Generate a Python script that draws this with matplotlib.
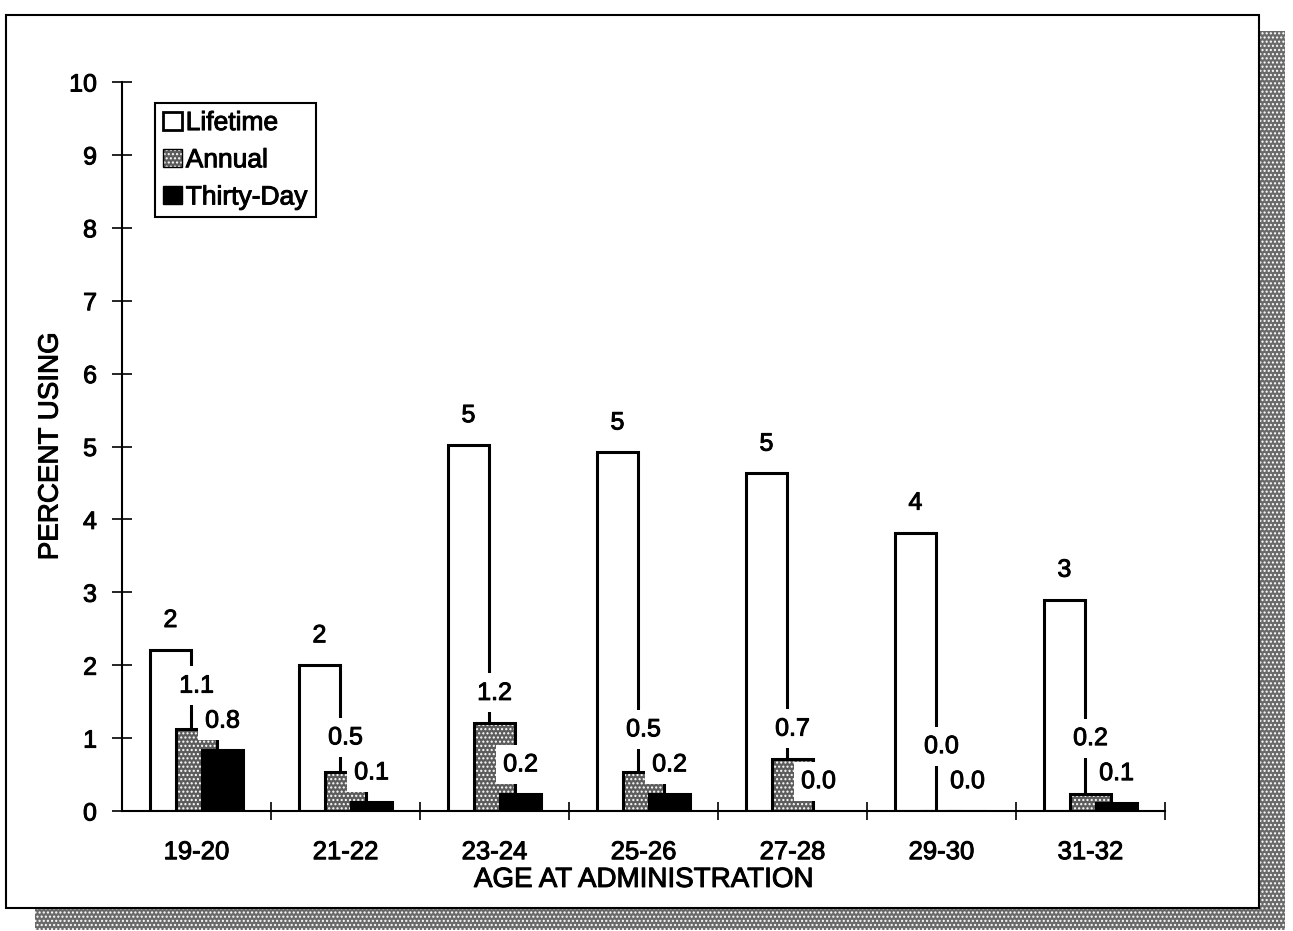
import matplotlib
matplotlib.use("Agg")
import matplotlib.pyplot as plt
import matplotlib.patheffects as pe
import numpy as np
from matplotlib.patches import Patch, Rectangle
from matplotlib.legend_handler import HandlerTuple

plt.rcParams['font.family'] = ['Liberation Sans', 'DejaVu Sans']
plt.rcParams['font.size'] = 18
plt.rcParams['hatch.linewidth'] = 1.0

# values (percent using)
ages = ["19-20", "21-22", "23-24", "25-26", "27-28", "29-30", "31-32"]
lifetime = [2.21, 2.00, 5.02, 4.92, 4.63, 3.82, 2.90]
annual = [1.12, 0.53, 1.21, 0.53, 0.72, 0.0, 0.23]
thirty_day = [0.83, 0.12, 0.23, 0.23, 0.0, 0.0, 0.11]

W, H = 1293, 931
fig = plt.figure(figsize=(W / 100, H / 100), dpi=100)

# page frame with stippled drop shadow
shadow = Rectangle((35 / W, 1 / H), 1250 / W, 899 / H, transform=fig.transFigure,
                   facecolor='#6a6a6a', edgecolor='white', hatch='....', lw=0, zorder=-3)
frame = Rectangle((6 / W, 23 / H), 1253 / W, 893 / H, transform=fig.transFigure,
                  facecolor='white', edgecolor='black', lw=1.5, zorder=-2)
fig.add_artist(shadow)
fig.add_artist(frame)

ax = fig.add_axes([122 / W, 1 - 811 / H, 1043 / W, 729 / H])
ax.set_facecolor('none')

x = np.arange(len(ages))
w = 0.28
d = 0.175
gray = '#5c5c5c'
ink = [pe.withStroke(linewidth=0.7, foreground='black')]

ax.bar(x - d, lifetime, w, color='white', edgecolor='black', lw=2.2, zorder=2)
ax.bar(x, annual, w, color=gray, edgecolor='white', hatch='....', lw=0, zorder=3)
ax.bar(x, annual, w, color='none', edgecolor='black', lw=2.2, zorder=3.1)
ax.bar(x + d, thirty_day, w, color='black', edgecolor='black', lw=2.2, zorder=4)

# value labels on white boxes (they cover the bars behind them)
box = dict(boxstyle='square,pad=0.3', facecolor='white', edgecolor='none')
gap = 0.41
for i in x:
    ax.text(i - d, lifetime[i] + gap, f"{lifetime[i]:.0f}", ha='center', va='center',
            bbox=box, zorder=6, path_effects=ink)
    a_y = max(annual[i] + gap, thirty_day[i] + gap + 0.48)
    ax.text(i, a_y, f"{annual[i]:.1f}", ha='center', va='center', bbox=box, zorder=6,
            path_effects=ink)
    ax.text(i + d, thirty_day[i] + gap, f"{thirty_day[i]:.1f}", ha='center', va='center',
            bbox=box, zorder=7, path_effects=ink)

ax.set_xlim(-0.5, len(ages) - 0.5)
ax.set_ylim(0, 10)
ax.set_yticks(range(11))
ax.set_xticks(x, ages)
ax.set_xticks(np.arange(0.5, len(ages), 1), minor=True)
ax.tick_params(axis='x', which='major', length=0, pad=21, labelsize=18.5)
ax.tick_params(axis='x', which='minor', direction='inout', length=13, width=1.2)
ax.tick_params(axis='y', direction='inout', length=14, width=1.2, pad=11)

for s in ['top', 'right']:
    ax.spines[s].set_visible(False)
for s in ['left', 'bottom']:
    ax.spines[s].set_linewidth(1.5)

ax.set_xlabel("AGE AT ADMINISTRATION", fontsize=20, labelpad=2)
ax.set_ylabel("PERCENT USING", fontsize=20, labelpad=4)

h_life = Patch(facecolor='white', edgecolor='black', lw=2)
h_ann = (Patch(facecolor=gray, edgecolor='white', hatch='....', lw=0),
         Patch(facecolor='none', edgecolor='black', lw=1))
h_thirty = Patch(facecolor='black', edgecolor='black', lw=1)
leg = ax.legend([h_life, h_ann, h_thirty], ["Lifetime", "Annual", "Thirty-Day"],
                handler_map={tuple: HandlerTuple(ndivide=1)},
                loc='upper left', bbox_to_anchor=(0.032, 0.971), borderaxespad=0,
                fancybox=False, framealpha=1, fontsize=19, handlelength=0.7,
                handleheight=0.7, handletextpad=0.15, labelspacing=0.5, borderpad=0.3)
leg.get_frame().set_edgecolor('black')
leg.get_frame().set_linewidth(1.5)

texts = leg.get_texts() + ax.get_xticklabels() + ax.get_yticklabels()
texts += [ax.xaxis.label, ax.yaxis.label]
for t in texts:
    t.set_path_effects(ink)

fig.savefig("out.png", dpi=100)
